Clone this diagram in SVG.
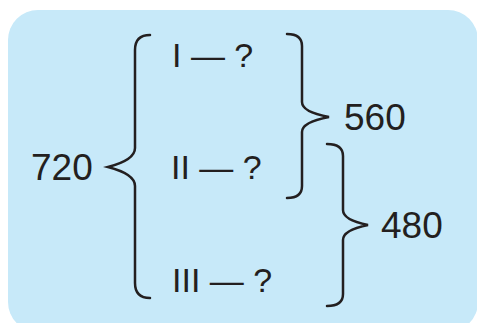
<svg xmlns="http://www.w3.org/2000/svg" width="477" height="323" viewBox="0 0 477 323">
  <style>
    .t { font-family: "Liberation Sans", Arial, sans-serif; fill: #231f20; }
    .num { font-size: 37px; }
    .row { font-size: 34px; }
    .brace { fill: none; stroke: #231f20; stroke-width: 2.5; stroke-linecap: round; stroke-linejoin: miter; }
  </style>
  <rect x="8" y="10" width="470" height="322" rx="30" ry="30" fill="#c7e9f9"/>
  <g id="connectors">
    <path class="brace" d="M150,35 Q135,35 135,50 L135,148 Q135,160 108,167 Q135,174 135,186 L135,283 Q135,298 150,298"/>
    <path class="brace" d="M287,34 Q302,34 302,46 L302,102 Q302,112 329,117 Q302,122 302,132 L302,186 Q302,198 287,198"/>
    <path class="brace" d="M327,144 Q343,144 343,156 L343,210 Q343,220 368,225 Q343,230 343,240 L343,294 Q343,306 327,306"/>
  </g>
  <g id="n720"><text class="t num" x="31" y="180">720</text></g>
  <g id="n560"><text class="t num" x="344" y="130">560</text></g>
  <g id="n480"><text class="t num" x="381" y="238">480</text></g>
  <g id="row1"><text class="t row" x="172" y="67">I — ?</text></g>
  <g id="row2"><text class="t row" x="171" y="179">II — ?</text></g>
  <g id="row3"><text class="t row" x="172" y="292">III — ?</text></g>
</svg>
